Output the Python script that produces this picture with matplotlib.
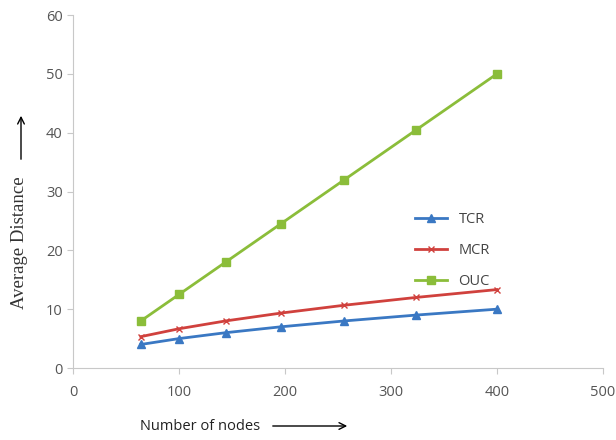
import numpy as np
from matplotlib import pyplot as plt
from matplotlib.patches import FancyArrowPatch

nodes = [64, 100, 144, 196, 256, 324, 400]
tcr = [4, 5, 6, 7, 8, 9, 10]
mcr = [5.33, 6.67, 8.0, 9.33, 10.67, 12.0, 13.33]
ouc = [8, 12.5, 18, 24.5, 32, 40.5, 50]

fig = plt.figure(figsize=(6.16, 4.40), dpi=100)
ax = fig.add_axes([73/616, 1-368/440, 530/616, 353/440])

ax.plot(nodes, tcr, color='#3a78c3', lw=2, marker='^', ms=6, label='TCR')
ax.plot(nodes, mcr, color='#d0413d', lw=2, marker='x', ms=5, mew=1, label='MCR')
ax.plot(nodes, ouc, color='#8bbd3a', lw=2, marker='s', ms=6, label='OUC')

ax.set_xlim(0, 500)
ax.set_ylim(0, 60)
ax.set_xticks(range(0, 501, 100))
ax.set_yticks(range(0, 61, 10))
for s in ['top', 'right']:
    ax.spines[s].set_visible(False)
for s in ['left', 'bottom']:
    ax.spines[s].set_color('#c8c8c8')
ax.tick_params(colors='#c8c8c8', labelcolor='#555555', labelsize=10.5, length=4)
for t in ax.get_xticklabels() + ax.get_yticklabels():
    t.set_family('Open Sans')
ax.tick_params(axis='x', pad=8)

leg = ax.legend(loc='upper left', bbox_to_anchor=(0.62, 0.48), frameon=False,
                labelspacing=1.1, handlelength=2.2, fontsize=10.5)
for t in leg.get_texts():
    t.set_color('#444444')
    t.set_family('Open Sans')

fig.text(20/616, 1-243/440, 'Average Distance', rotation=90, ha='center', va='center',
         family='Liberation Serif', fontsize=13.5, color='#333333')
fig.text(200/616, 1-426/440, 'Number of nodes', ha='center', va='center',
         family='Open Sans', fontsize=10.5, color='#222222')
fig.patches.append(FancyArrowPatch(
    (21/616, 1-162/440), (21/616, 1-113/440), transform=fig.transFigure,
    arrowstyle='->', mutation_scale=12, color='black', lw=1))
fig.patches.append(FancyArrowPatch(
    (270/616, 1-426/440), (350/616, 1-426/440), transform=fig.transFigure,
    arrowstyle='->', mutation_scale=12, color='black', lw=1))

fig.savefig('out.png', dpi=100)
